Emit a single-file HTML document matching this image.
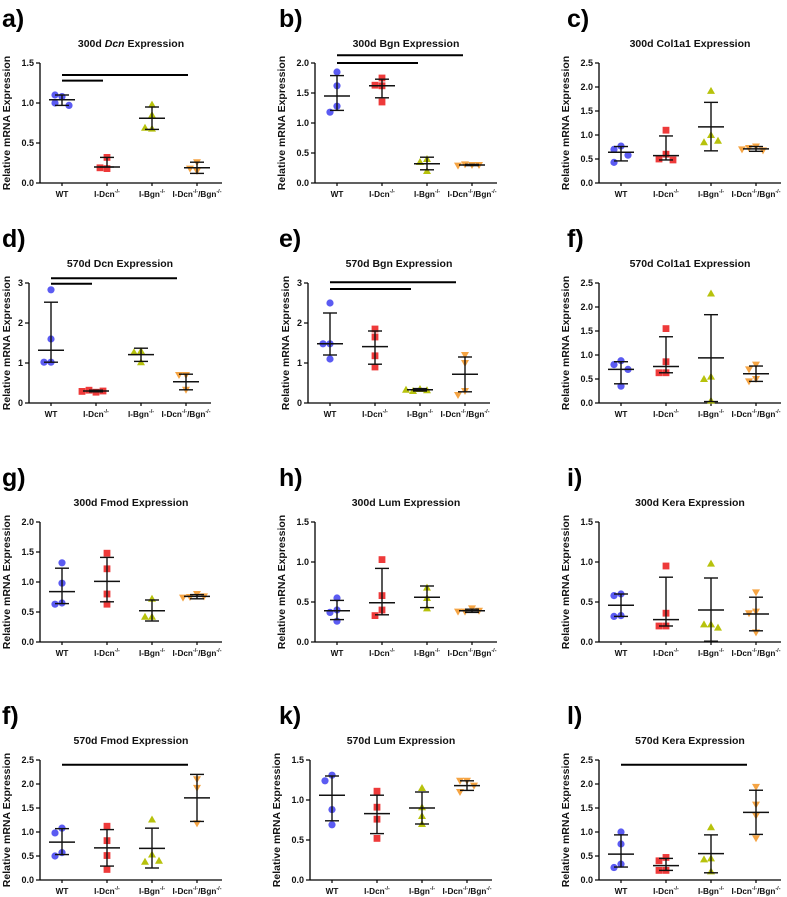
<!DOCTYPE html>
<html><head><meta charset="utf-8">
<style>
html,body{margin:0;padding:0;background:#fff;}
svg{display:block;font-family:"Liberation Sans",Arial,sans-serif;}
</style></head>
<body>
<svg id="fig" width="787" height="897" viewBox="0 0 787 897" xmlns="http://www.w3.org/2000/svg"></svg>
<script>
const categories = ["WT","I-Dcn","I-Bgn","I-Dcn/Bgn"];

const a_values = [[1.08,1.1,1.0,0.97],[0.32,0.18,0.19],[0.98,0.85,0.68,0.69],[0.26,0.15,0.18]];
const a_means = [1.04,0.2,0.81,0.19];
const a_hi = [1.1,0.32,0.95,0.26];
const a_lo = [0.97,0.2,0.67,0.12];

const b_values = [[1.85,1.62,1.28,1.18],[1.75,1.62,1.63,1.35],[0.4,0.35,0.2],[0.3,0.31,0.3,0.29]];
const b_means = [1.45,1.62,0.32,0.3];
const b_hi = [1.79,1.73,0.43,0.31];
const b_lo = [1.21,1.42,0.22,0.29];

const c_values = [[0.77,0.7,0.58,0.43],[1.1,0.6,0.5,0.48],[1.92,1.0,0.85,0.88],[0.76,0.73,0.68,0.7]];
const c_means = [0.64,0.57,1.17,0.71];
const c_hi = [0.76,0.98,1.68,0.76];
const c_lo = [0.46,0.48,0.67,0.66];

const d_values = [[2.83,1.6,1.02,1.02],[0.27,0.32,0.3,0.29],[1.3,1.27,1.02],[0.7,0.7,0.33]];
const d_means = [1.32,0.3,1.21,0.53];
const d_hi = [2.52,0.32,1.37,0.72];
const d_lo = [1.02,0.28,1.04,0.33];

const e_values = [[2.5,1.48,1.48,1.1],[1.85,1.65,1.18,0.9],[0.35,0.3,0.32,0.33],[1.2,1.0,0.3,0.2]];
const e_means = [1.48,1.41,0.33,0.72];
const e_hi = [2.25,1.8,0.36,1.15];
const e_lo = [1.2,0.97,0.3,0.28];

const f_values = [[0.88,0.8,0.7,0.35],[1.55,0.86,0.63,0.63],[2.28,0.55,0.5,0.05],[0.8,0.7,0.5,0.45]];
const f_means = [0.7,0.76,0.94,0.61];
const f_hi = [0.86,1.38,1.84,0.77];
const f_lo = [0.4,0.63,0.03,0.45];

const g_values = [[1.32,0.98,0.65,0.63],[1.48,1.22,0.8,0.63],[0.72,0.42,0.42],[0.8,0.75,0.76,0.74]];
const g_means = [0.84,1.01,0.52,0.76];
const g_hi = [1.23,1.41,0.7,0.79];
const g_lo = [0.64,0.67,0.35,0.72];

const h_values = [[0.55,0.4,0.37,0.26],[1.03,0.58,0.4,0.33],[0.68,0.55,0.42],[0.42,0.38,0.39,0.38]];
const h_means = [0.39,0.49,0.56,0.39];
const h_hi = [0.52,0.92,0.7,0.41];
const h_lo = [0.28,0.34,0.43,0.37];

const i_values = [[0.6,0.58,0.33,0.32],[0.95,0.36,0.2,0.2],[0.98,0.22,0.22,0.18],[0.62,0.38,0.36,0.12]];
const i_means = [0.46,0.28,0.4,0.35];
const i_hi = [0.6,0.81,0.8,0.56];
const i_lo = [0.32,0.2,0.01,0.14];

const j_values = [[1.08,0.98,0.57,0.5],[1.12,0.82,0.51,0.22],[1.26,0.53,0.38,0.4],[2.1,1.92,1.18]];
const j_means = [0.79,0.67,0.66,1.71];
const j_hi = [1.07,1.05,1.08,2.2];
const j_lo = [0.53,0.29,0.25,1.22];

const k_values = [[1.31,1.24,0.88,0.69],[1.11,0.91,0.76,0.52],[1.15,0.91,0.8,0.7],[1.24,1.24,1.18,1.1]];
const k_means = [1.06,0.83,0.9,1.18];
const k_hi = [1.3,1.06,1.1,1.24];
const k_lo = [0.74,0.58,0.7,1.12];

const l_values = [[1.0,0.75,0.33,0.26],[0.47,0.4,0.2,0.2],[1.1,0.45,0.43,0.18],[1.94,1.57,1.34,0.87]];
const l_means = [0.54,0.3,0.55,1.41];
const l_hi = [0.94,0.45,0.94,1.87];
const l_lo = [0.27,0.2,0.15,0.95];

const yMax = [1.5,2.0,2.5,3,3,2.5,2.0,1.5,1.5,2.5,1.5,2.5];
const yStep = [0.5,0.5,0.5,1,1,0.5,0.5,0.5,0.5,0.5,0.5,0.5];
const titles = ["300d Dcn Expression","300d Bgn Expression","300d Col1a1 Expression","570d Dcn Expression","570d Bgn Expression","570d Col1a1 Expression","300d Fmod Expression","300d Lum Expression","300d Kera Expression","570d Fmod Expression","570d Lum Expression","570d Kera Expression"];
const panelLetters = ["a)","b)","c)","d)","e)","f)","g)","h)","i)","f)","k)","l)"];
const a_sig = [[1,1.28],[3,1.35]];
const b_sig = [[2,2.0],[3,2.13]];
const d_sig = [[1,2.98],[3,3.12]];
const e_sig = [[2,2.85],[3,3.02]];
const j_sig = [[3,2.4]];
const l_sig = [[3,2.4]];

const ALL = [
 [a_values,a_means,a_hi,a_lo,a_sig],[b_values,b_means,b_hi,b_lo,b_sig],[c_values,c_means,c_hi,c_lo,[]],
 [d_values,d_means,d_hi,d_lo,d_sig],[e_values,e_means,e_hi,e_lo,e_sig],[f_values,f_means,f_hi,f_lo,[]],
 [g_values,g_means,g_hi,g_lo,[]],[h_values,h_means,h_hi,h_lo,[]],[i_values,i_means,i_hi,i_lo,[]],
 [j_values,j_means,j_hi,j_lo,j_sig],[k_values,k_means,k_hi,k_lo,[]],[l_values,l_means,l_hi,l_lo,l_sig]
];

const NS="http://www.w3.org/2000/svg";
const svg=document.getElementById('fig');
const rowOff=[0,220,459,697];
const axisXs=[40,315,599,29,308,599,40,315,599,40,310,599];
const letterX=[2,279,567];
const colors=["#5b5bf2","#ee3a3a","#b7c20c","#f5a443"];
const markNames=["wt","dcn","bgn","dko"];

function el(tag,attrs,parent){const e=document.createElementNS(NS,tag);for(const k in attrs)e.setAttribute(k,attrs[k]);(parent||svg).appendChild(e);return e;}

for(let p=0;p<12;p++){
  const [vals,means,hi,lo,sig]=ALL[p];
  const r=Math.floor(p/3), c=p%3;
  const off=rowOff[r], ax=axisXs[p];
  const top=63+off, bot=183+off, W=182;
  const ymax=yMax[p], step=yStep[p];
  const Y=v=>bot-(v/ymax)*(bot-top);
  const X=i=>ax+22+45*i;
  const g=el('g',{});
  
  

  const lt=el('text',{x:letterX[c],y:off+27,'font-size':25,'font-weight':'bold',fill:'#000'},g);
  lt.textContent=panelLetters[p];
  
  

  const tt=el('text',{x:ax+W/2,y:off+47,'font-size':10.5,'font-weight':'bold','text-anchor':'middle',fill:'#111'},g);
  
  
  if(p===0){tt.innerHTML='300d <tspan font-style="italic">Dcn</tspan> Expression';}else tt.textContent=titles[p];

  const singleDigit = step>=1;
  const ytx = singleDigit? ax-19 : ax-30;
  const yl=el('text',{x:ytx,y:(top+bot)/2,'font-size':10.5,'font-weight':'bold','text-anchor':'middle',transform:`rotate(-90 ${ytx} ${(top+bot)/2})`,fill:'#111'},g);
  yl.textContent='Relative mRNA Expression';
  
  

  const ya=el('line',{x1:ax,y1:top,x2:ax,y2:bot,stroke:'#000','stroke-width':1.3},g);
  
  
  const xa=el('line',{x1:ax,y1:bot,x2:ax+W,y2:bot,stroke:'#000','stroke-width':1.3},g);
  
  
  const nT=Math.round(ymax/step);
  for(let t=0;t<=nT;t++){
    const v=t*step, y=Y(v);
    el('line',{x1:ax-4,y1:y,x2:ax,y2:y,stroke:'#000','stroke-width':1.2},g);
    const tl=el('text',{x:ax-6,y:y+3.2,'font-size':9,'font-weight':'bold','text-anchor':'end',fill:'#111'},g);
    tl.textContent= singleDigit? String(v) : v.toFixed(1);
    
    
  }
  for(let i=0;i<4;i++){
    el('line',{x1:X(i),y1:bot,x2:X(i),y2:bot+3,stroke:'#000','stroke-width':1.2},g);
    const xl=el('text',{x:X(i),y:bot+14,'font-size':8.2,'font-weight':'bold','text-anchor':'middle',fill:'#111'},g);
    
    
    if(i===0) xl.textContent='WT';
    else if(i===1) xl.innerHTML='I-Dcn<tspan font-size="5.5" dy="-4">-/-</tspan>';
    else if(i===2) xl.innerHTML='I-Bgn<tspan font-size="5.5" dy="-4">-/-</tspan>';
    else xl.innerHTML='I-Dcn<tspan font-size="5.5" dy="-4">-/-</tspan><tspan dy="4">/Bgn</tspan><tspan font-size="5.5" dy="-4">-/-</tspan>';
  }
  for(let i=0;i<4;i++){
    const placed=[];
    vals[i].forEach((v,k)=>{
      const y=Y(v);
      const near=placed.filter(q=>Math.abs(q.y-y)<7.5);
      let dx=0;
      if(near.length){const used=near.map(q=>q.dx);const opts=[-7,7,-14,14,0];dx=opts.find(o=>!used.includes(o));}
      placed.push({y,dx});
      const cx=X(i)+dx, col=colors[i];
      let m;
      if(i===0) m=el('circle',{cx,cy:y,r:3.6,fill:col},g);
      else if(i===1) m=el('rect',{x:cx-3.4,y:y-3.4,width:6.8,height:6.8,fill:col},g);
      else if(i===2) m=el('polygon',{points:`${cx},${y-4} ${cx-4},${y+3} ${cx+4},${y+3}`,fill:col},g);
      else m=el('polygon',{points:`${cx},${y+4} ${cx-4},${y-3} ${cx+4},${y-3}`,fill:col},g);
      
      
    });
    const cx=X(i);
    const eb=el('g',{stroke:'#111','stroke-width':1.4},g);
    
    
    el('line',{x1:cx,y1:Y(hi[i]),x2:cx,y2:Y(lo[i])},eb);
    el('line',{x1:cx-7,y1:Y(hi[i]),x2:cx+7,y2:Y(hi[i])},eb);
    el('line',{x1:cx-7,y1:Y(lo[i]),x2:cx+7,y2:Y(lo[i])},eb);
    const ml=el('line',{x1:cx-13,y1:Y(means[i]),x2:cx+13,y2:Y(means[i]),stroke:'#111','stroke-width':1.5},g);
    
    
  }
  sig.forEach(s=>{
    const sl=el('line',{x1:X(0),y1:Y(s[1]),x2:X(s[0])-(s[0]===1?4:9),y2:Y(s[1]),stroke:'#000','stroke-width':2},g);
    
    
  });
}
</script>
</body></html>
